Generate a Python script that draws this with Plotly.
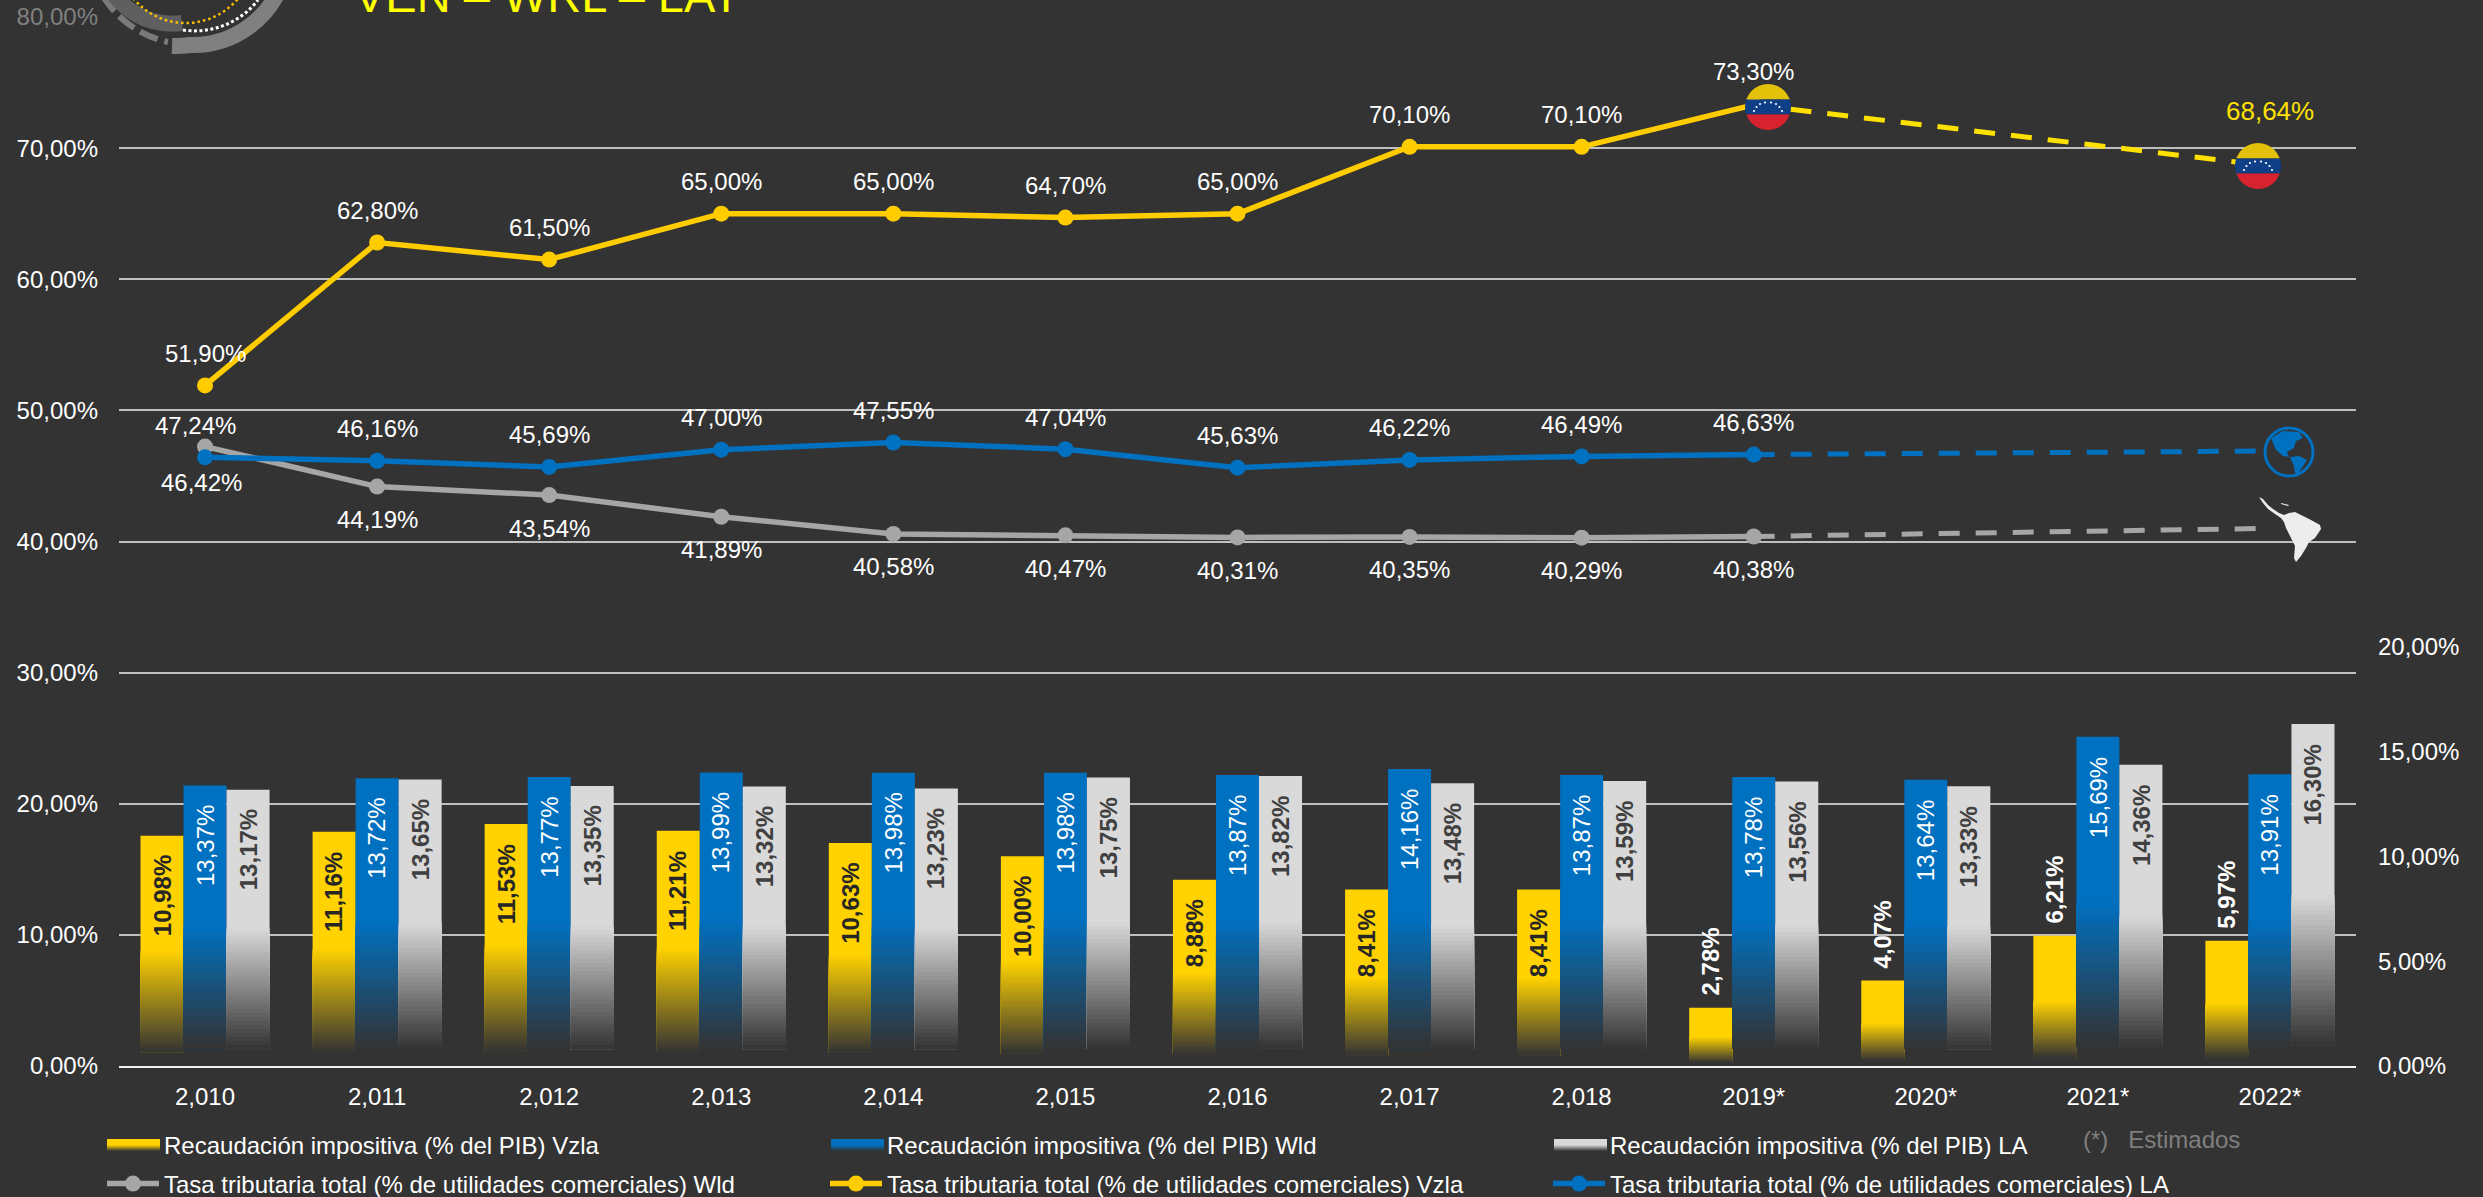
import base64
import plotly.graph_objects as go

# ---------- data ----------
categories = ["2,010", "2,011", "2,012", "2,013", "2,014", "2,015", "2,016",
              "2,017", "2,018", "2019*", "2020*", "2021*", "2022*"]
rec_vzla = [10.98, 11.16, 11.53, 11.21, 10.63, 10.00, 8.88, 8.41, 8.41, 2.78, 4.07, 6.21, 5.97]
rec_wld = [13.37, 13.72, 13.77, 13.99, 13.98, 13.98, 13.87, 14.16, 13.87, 13.78, 13.64, 15.69, 13.91]
rec_la = [13.17, 13.65, 13.35, 13.32, 13.23, 13.75, 13.82, 13.48, 13.59, 13.56, 13.33, 14.36, 16.30]
tasa_vzla = [51.90, 62.80, 61.50, 65.00, 65.00, 64.70, 65.00, 70.10, 70.10, 73.30]
tasa_blue = [46.42, 46.16, 45.69, 47.00, 47.55, 47.04, 45.63, 46.22, 46.49, 46.63]
tasa_grey = [47.24, 44.19, 43.54, 41.89, 40.58, 40.47, 40.31, 40.35, 40.29, 40.38]
proj_x = ["2019*", "2022*"]
proj_vzla = [73.30, 68.64]
proj_blue = [46.63, 46.90]
proj_grey = [40.38, 41.00]
left_ticks = [0, 10, 20, 30, 40, 50, 60, 70, 80]
right_ticks = [0, 5, 10, 15, 20]

names_bar = ["Recaudación impositiva (% del PIB) Vzla", "Recaudación impositiva (% del PIB) Wld",
             "Recaudación impositiva (% del PIB) LA"]
names_line = ["Tasa tributaria total (% de utilidades comerciales) Wld",
              "Tasa tributaria total (% de utilidades comerciales) Vzla",
              "Tasa tributaria total (% de utilidades comerciales) LA"]

# ---------- style ----------
BG = (51, 51, 51)
FONT = "Liberation Sans, Arial, sans-serif"
W, H = 2483, 1197
L, R, T, B = 119, 2356, 17, 1066
YEL, BLU, GRY = "#FFD200", "#0070C0", "#D9D9D9"
FS = 24


def px_x(p):
    return (p - L) / (R - L)


def px_y(p):
    return (B - p) / (B - T)


def pct(v):
    return f"{v:.2f}%".replace(".", ",")


def rgb(h):
    return tuple(int(h[i:i + 2], 16) for i in (1, 3, 5))


def mix(c, t):
    return "rgb(%d,%d,%d)" % tuple(round(a + (b - a) * t) for a, b in zip(c, BG))


fig = go.Figure()

# gradient bars: each value bar is painted as nested bars, longest first, so no seams show
N = 30
FOOT = 0.06
for vals, col, grp in [(rec_vzla, YEL, "a"), (rec_wld, BLU, "b"), (rec_la, GRY, "c")]:
    c = rgb(col)
    fig.add_trace(go.Bar(x=categories, y=[v * (1 - FOOT) for v in vals], base=[v * FOOT for v in vals],
                         offsetgroup=grp, yaxis="y2", marker=dict(color=col, line_width=0),
                         showlegend=False, hoverinfo="skip"))
    for k in range(N):
        f1 = 0.5 - (0.5 - FOOT) * k / N
        fig.add_trace(go.Bar(x=categories, y=[v * (f1 - FOOT) for v in vals], base=[v * FOOT for v in vals],
                             offsetgroup=grp, yaxis="y2",
                             marker=dict(color=mix(c, (k + 0.5) / N), line_width=0),
                             showlegend=False, hoverinfo="skip"))

# legend proxies for the bar series: the gradient swatch itself is a picture under the legend
for name, col in zip(names_bar, [YEL, BLU, GRY]):
    r_, g_, b_ = rgb(col)
    fig.add_trace(go.Scatter(x=[None], y=[None], mode="lines", name=name, legend="legend",
                             line=dict(color=f"rgba({r_},{g_},{b_},0)", width=12), hoverinfo="skip"))

# dashed projections
for vals, col in [(proj_grey, "#A6A6A6"), (proj_vzla, "#FFE100"), (proj_blue, BLU)]:
    fig.add_trace(go.Scatter(x=proj_x, y=vals, mode="lines", showlegend=False, hoverinfo="skip",
                             line=dict(color=col, width=5, dash="21px,16px")))

# solid lines
for vals, col, name in [(tasa_grey, "#A6A6A6", names_line[0]),
                        (tasa_vzla, "#FFCC00", names_line[1]),
                        (tasa_blue, BLU, names_line[2])]:
    fig.add_trace(go.Scatter(x=categories[:len(vals)], y=vals, mode="lines+markers", name=name,
                             legend="legend2", line=dict(color=col, width=5.5),
                             marker=dict(color=col, size=16)))

# annotations
ann = []


def add_line_labels(vals, shifts, xshifts=None, color="white", cats=None, size=FS):
    cats = cats or categories
    for i, (v, s) in enumerate(zip(vals, shifts)):
        ann.append(dict(x=cats[i], y=v, xref="x", yref="y", text=pct(v), showarrow=False, yshift=s,
                        xshift=(xshifts[i] if xshifts else 0), xanchor="center", yanchor="middle",
                        font=dict(family=FONT, size=size, color=color)))


add_line_labels(tasa_vzla, [32] * 9 + [33])
add_line_labels([68.64], [55], color="#FFE100", cats=["2022*"], size=26)
add_line_labels(tasa_blue, [-25] + [32] * 9, xshifts=[-4] + [0] * 9)
add_line_labels(tasa_grey, [21] + [-33] * 9, xshifts=[-10] + [0] * 9)

BW = 43
for vals, dx, col, fam_bold in [(rec_vzla, -BW, "#262626", True), (rec_wld, 0, "white", False),
                                (rec_la, BW, "#404040", True)]:
    for c, v in zip(categories, vals):
        inside = not (dx == -BW and v < 7)
        txt = pct(v)
        if fam_bold:
            txt = f"<b>{txt}</b>"
        ann.append(dict(x=c, y=v, xref="x", yref="y2", text=txt, showarrow=False, textangle=-90,
                        xshift=dx, yshift=-18 if inside else 10, xanchor="center",
                        yanchor="top" if inside else "bottom",
                        font=dict(family=FONT, size=FS, color=col if inside else "white")))

ann.append(dict(xref="paper", yref="paper", x=px_x(352), y=px_y(24), xanchor="left", yanchor="bottom",
                text="VEN – WRL – LAT", showarrow=False,
                font=dict(family=FONT, size=47, color="#FFFF00")))
ann.append(dict(xref="paper", yref="paper", x=px_x(2081), y=px_y(1139), xanchor="left", yanchor="middle",
                text="(*)   Estimados", showarrow=False, font=dict(family=FONT, size=FS, color="#7F7F7F")))


# decorative pictures
def svg_uri(s):
    return "data:image/svg+xml;base64," + base64.b64encode(s.encode()).decode()


flag = """<svg xmlns='http://www.w3.org/2000/svg' viewBox='0 0 46 46' width='184' height='184'>
<defs><clipPath id='c'><circle cx='23' cy='23' r='23'/></clipPath></defs>
<g clip-path='url(#c)'><rect width='46' height='15.5' fill='#E3C00A'/>
<rect y='15.5' width='46' height='15' fill='#0E3F87'/><rect y='30.5' width='46' height='15.5' fill='#D8222F'/></g>
<g fill='white'><circle cx='9' cy='27' r='1.1'/><circle cx='11.5' cy='23' r='1.1'/><circle cx='15' cy='20' r='1.1'/>
<circle cx='20' cy='18.5' r='1.1'/><circle cx='26' cy='18.5' r='1.1'/><circle cx='31' cy='20' r='1.1'/>
<circle cx='34.5' cy='23' r='1.1'/><circle cx='37' cy='27' r='1.1'/></g></svg>"""

globe = """<svg xmlns='http://www.w3.org/2000/svg' viewBox='0 0 52 52' width='208' height='208'>
<circle cx='26' cy='26' r='24' fill='#333333' stroke='#0070C0' stroke-width='3'/>
<path fill='#0070C0' d='M8 12 L20 5 L36 6 L40 12 L33 15 L31 22 L24 26 L26 31 L20 30 L13 24 Z'/>
<path fill='#0070C0' d='M27 31 L36 30 L44 34 L39 42 L35 48 L32 47 L31 40 Z'/></svg>"""

latam = """<svg xmlns='http://www.w3.org/2000/svg' viewBox='0 0 62 66' width='248' height='264'>
<path fill='#EDEDED' d='M0 1 L4 3 L9 9 L14 13 L20 17 L25 19 L30 17 L36 16 L44 20 L52 24 L61 29 L62 33 L56 42 L50 46 L47 52 L42 60 L37 66 L35 62 L36 50 L31 40 L27 32 L25 26 L22 22 L16 18 L9 13 L4 7 Z'/>
<path fill='#EDEDED' d='M22 7 L30 9 L29 10 L22 8 Z'/></svg>"""

logo = """<svg xmlns='http://www.w3.org/2000/svg' viewBox='80 -160 240 220' width='480' height='440'>
<g fill='none'>
<path d='M172 46 A98 98 0 0 0 190 45 A95 95 0 0 0 283 -20' stroke='#808080' stroke-width='16'/>
<path d='M103 -4 A100 100 0 0 0 168 42' stroke='#7A7A7A' stroke-width='6' stroke-dasharray='19 7'/>
<path d='M100 -50 A72 72 0 0 0 182 23' stroke='#5F5F5F' stroke-width='16'/>
<path d='M130 -6 A68 68 0 0 0 240 -4' stroke='#FFC000' stroke-width='2.5' stroke-dasharray='2.5 3'/>
<path d='M183 30 A80 80 0 0 0 258 0' stroke='#FFFFFF' stroke-width='3' stroke-dasharray='3 2.5'/>
</g></svg>"""


def swatch(col):
    return f"""<svg xmlns='http://www.w3.org/2000/svg' viewBox='0 0 53 12' width='212' height='48' preserveAspectRatio='none'>
<defs><linearGradient id='g' x1='0' y1='0' x2='0' y2='1'><stop offset='0.5' stop-color='{col}'/>
<stop offset='1' stop-color='#333333'/></linearGradient></defs><rect width='53' height='12' fill='url(#g)'/></svg>"""


images = []
for src, cx, cy, w, h in [(flag, 1768, 107, 46, 46), (flag, 2258, 166, 46, 46),
                          (globe, 2289, 452, 52, 52), (latam, 2290, 529, 62, 66),
                          (swatch(YEL), 133.5, 1145, 53, 12), (swatch(BLU), 857.5, 1145, 53, 12),
                          (swatch(GRY), 1580.5, 1145, 53, 12)]:
    images.append(dict(source=svg_uri(src), xref="paper", yref="paper", x=px_x(cx), y=px_y(cy),
                       sizex=w / (R - L), sizey=h / (B - T), xanchor="center", yanchor="middle",
                       sizing="stretch", layer="above"))
images.append(dict(source=svg_uri(logo), xref="paper", yref="paper", x=px_x(80), y=px_y(-160),
                   sizex=240 / (R - L), sizey=220 / (B - T), xanchor="left", yanchor="top",
                   sizing="stretch", layer="below"))

tick_font = dict(family=FONT, size=FS, color="white")
leg = dict(orientation="h", xanchor="left", yanchor="middle", x=px_x(102),
           bgcolor="rgba(0,0,0,0)", font=dict(family=FONT, size=FS, color="white"),
           itemwidth=52, entrywidth=656, entrywidthmode="pixels", itemclick=False, itemdoubleclick=False)

fig.update_layout(
    width=W, height=H, autosize=False,
    margin=dict(l=L, r=W - R, t=T, b=H - B, pad=0, autoexpand=False),
    paper_bgcolor="#333333", plot_bgcolor="#333333",
    barmode="group", bargap=0.25, bargroupgap=0,
    annotations=ann, images=images,
    legend={**leg, "y": px_y(1145)},
    legend2={**leg, "y": px_y(1184)},
    xaxis=dict(type="category", categoryorder="array", categoryarray=categories, range=[-0.5, 12.5],
               showgrid=False, showline=True, linecolor="#F2F2F2", linewidth=2, ticks="",
               tickfont=tick_font, ticklabelstandoff=8, fixedrange=True),
    yaxis=dict(range=[0, 80], tickvals=left_ticks,
               ticktext=[("<span style='color:#808080'>%s</span>" % pct(t)) if t == 80 else pct(t) for t in left_ticks],
               showgrid=True, gridcolor="#BFBFBF", gridwidth=2, zeroline=False, showline=False,
               ticks="", tickfont=tick_font, ticklabelstandoff=20, fixedrange=True),
    yaxis2=dict(range=[0, 50], overlaying="y", side="right", tickvals=right_ticks,
                ticktext=[pct(t) for t in right_ticks], showgrid=False, zeroline=False, showline=False,
                ticks="", tickfont=tick_font, ticklabelstandoff=21, fixedrange=True),
    showlegend=True,
)

fig.write_html("out.html", config={"displayModeBar": False},
               post_script="document.body.style.margin='0';document.documentElement.style.overflow='hidden';")
